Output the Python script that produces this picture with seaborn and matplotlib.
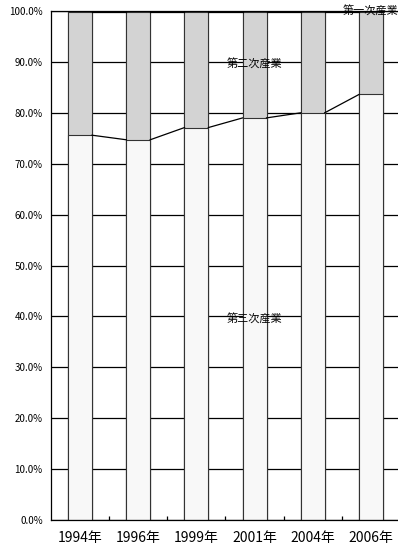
import matplotlib
matplotlib.use("Agg")
import matplotlib.pyplot as plt
import seaborn as sns
import pandas as pd
import numpy as np
from matplotlib.ticker import FixedLocator, PercentFormatter

plt.rcParams['font.family'] = ['Noto Sans CJK JP', 'DejaVu Sans']

years = ["1994年", "1996年", "1999年", "2001年", "2004年", "2006年"]
tertiary = [75.6, 74.7, 77.1, 79.0, 80.0, 83.6]
primary = [0.1, 0.1, 0.1, 0.1, 0.1, 0.1]
secondary = [100 - t - p for t, p in zip(tertiary, primary)]
series_names = ["第三次産業", "第二次産業", "第一次産業"]

df = pd.DataFrame({"year": years, "tertiary": tertiary,
                   "secondary": secondary, "primary": primary})
df["cum2"] = df["tertiary"] + df["secondary"]
df["cum3"] = df["cum2"] + df["primary"]

W, H = 398, 548
fig = plt.figure(figsize=(W / 100, H / 100), dpi=100)
ax = fig.add_axes([51 / W, (H - 520) / H, 349 / W, 509 / H])

bw = 0.41
ec = "#333333"
lw = 0.8
sns.barplot(data=df, x="year", y="cum3", order=years, color="#ffffff",
            width=bw, edgecolor=ec, linewidth=lw, ax=ax, saturation=1)
sns.barplot(data=df, x="year", y="cum2", order=years, color="#d3d3d3",
            width=bw, edgecolor=ec, linewidth=lw, ax=ax, saturation=1)
sns.barplot(data=df, x="year", y="tertiary", order=years, color="#f8f8f8",
            width=bw, edgecolor=ec, linewidth=lw, ax=ax, saturation=1)

# series lines
pos = np.arange(len(years))
for col in ["tertiary", "cum2"]:
    vals = df[col].values
    for i in range(len(years) - 1):
        ax.plot([pos[i] + bw / 2, pos[i + 1] - bw / 2], [vals[i], vals[i + 1]],
                color="black", lw=0.9, zorder=3)

ax.set_xlim(-0.5, len(years) - 0.5)
ax.set_ylim(0, 100)
ax.yaxis.set_major_locator(FixedLocator(np.arange(0, 101, 10)))
ax.yaxis.set_major_formatter(PercentFormatter(decimals=1))
ax.grid(axis="y", color="black", lw=0.9)
ax.set_axisbelow(True)
ax.tick_params(axis="y", length=0, labelsize=7, pad=6, colors="black")
ax.tick_params(axis="x", which="major", length=0, labelsize=10, pad=8)
ax.xaxis.set_minor_locator(FixedLocator(pos[:-1] + 0.5))
ax.tick_params(axis="x", which="minor", direction="in", length=3, width=0.9)
ax.set_xlabel("")
ax.set_ylabel("")
ax.spines["right"].set_visible(False)
for s in ["left", "bottom", "top"]:
    ax.spines[s].set_color("black")
    ax.spines[s].set_linewidth(0.9)

ax.text(3, tertiary[3] / 2, series_names[0], ha="center", va="center", fontsize=8)
ax.text(3, tertiary[3] + secondary[3] / 2, series_names[1], ha="center", va="center", fontsize=8)
ax.text(5, 100.0, series_names[2], ha="center", va="center", fontsize=8, clip_on=False)

fig.savefig("out.png", dpi=100)
